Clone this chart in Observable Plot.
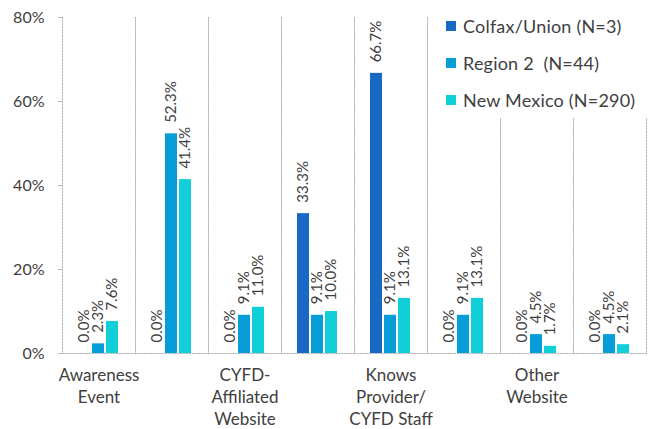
<!DOCTYPE html>
<html>
<head>
<meta charset="utf-8">
<script src="https://cdn.jsdelivr.net/npm/d3@7"></script>
<script src="https://cdn.jsdelivr.net/npm/@observablehq/plot@0.6"></script>
<style>
  body { margin: 0; background: #fff; }
  #wrap { position: relative; width: 649px; height: 429px; font-family: Lato, "Open Sans", sans-serif; }
  #legend { position: absolute; left: 436px; top: 0; width: 213px; height: 118px; background: #fff; overflow: hidden; }
  .row { position: absolute; left: 10px; display: flex; align-items: center; font-size: 18px; color: #404040; white-space: pre; letter-spacing: 0.2px; }
  .sw { width: 10px; height: 10px; margin-right: 7px; }
</style>
</head>
<body>
<div id="wrap"><div id="chart"></div><div id="legend"></div></div>
<script>
const categories = ["Awareness Event", "Category 2", "CYFD-Affiliated Website", "Category 4", "Knows Provider/CYFD Staff", "Category 6", "Other Website", "Category 8"];
const tickLabels = ["Awareness\nEvent", "", "CYFD-\nAffiliated\nWebsite", "", "Knows\nProvider/\nCYFD Staff", "", "Other\nWebsite", ""];
const series = ["Colfax/Union (N=3)", "Region 2  (N=44)", "New Mexico (N=290)"];
const colors = ["#1769c4", "#079dd9", "#10cfd9"];
const colfax = [0.0, 0.0, 0.0, 33.3, 66.7, 0.0, 0.0, 0.0];
const region2 = [2.3, 52.3, 9.1, 9.1, 9.1, 9.1, 4.5, 4.5];
const newMexico = [7.6, 41.4, 11.0, 10.0, 13.1, 13.1, 1.7, 2.1];
const yTicks = [0, 0.2, 0.4, 0.6, 0.8];

const valuesBySeries = [colfax, region2, newMexico];
const rows = [];
categories.forEach((c, i) => series.forEach((s, j) => rows.push({cat: c, series: s, value: valuesBySeries[j][i] / 100})));

const grid = {stroke: "#b8b8b8", strokeDasharray: "1.5,1.5", strokeWidth: 1};
const chart = Plot.plot({
  width: 649, height: 429,
  marginTop: 17, marginBottom: 76, marginLeft: 61, marginRight: 1.5,
  style: {fontFamily: "Lato, 'Open Sans', sans-serif", background: "#fff"},
  fx: {domain: categories, padding: 0, label: null, axis: null},
  x: {domain: series, axis: null, paddingInner: 0.12, paddingOuter: 1.0},
  y: {domain: [0, 0.8], axis: null},
  color: {domain: series, range: colors},
  marks: [
    Plot.frame({anchor: "left", ...grid}),
    Plot.frame({anchor: "right", ...grid}),
    Plot.frame({anchor: "bottom", ...grid}),
    Plot.barY(rows, {fx: "cat", x: "series", y: "value", fill: "series"}),
    Plot.text(rows, {fx: "cat", x: "series", y: "value", text: d => (d.value * 100).toFixed(1) + "%",
      rotate: -90, textAnchor: "start", dy: -11, fontSize: 15, fill: "#404040"}),
    Plot.axisY({ticks: yTicks, tickFormat: d3.format(".0%"), tickSize: 4, tickPadding: 14, fontSize: 16, fill: "#404040", stroke: "#b8b8b8", label: null}),
    Plot.axisFx({anchor: "bottom", tickFormat: (d) => tickLabels[categories.indexOf(d)], tickSize: 0, tickPadding: 12, fontSize: 17, fill: "#404040", label: null, lineHeight: 1.3})
  ]
});
document.getElementById("chart").appendChild(chart);

const legend = document.getElementById("legend");
series.forEach((s, j) => {
  const r = document.createElement("div");
  r.className = "row";
  r.style.top = (15 + j * 37) + "px";
  r.innerHTML = `<span class="sw" style="background:${colors[j]}"></span><span>${s}</span>`;
  legend.appendChild(r);
});
</script>
</body>
</html>
